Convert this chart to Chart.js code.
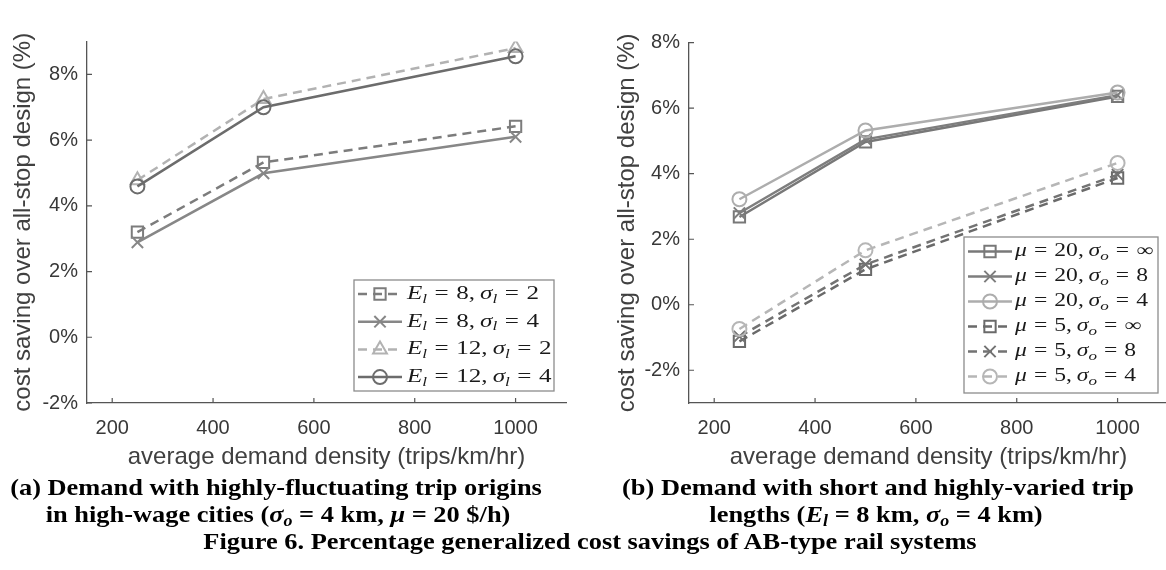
<!DOCTYPE html>
<html>
<head>
<meta charset="utf-8">
<script src="https://cdn.jsdelivr.net/npm/chart.js@4.4.1/dist/chart.umd.min.js"></script>
<style>
html,body{margin:0;padding:0;width:1166px;height:570px;overflow:hidden;background:#fff;}
#wrapA{position:absolute;left:0;top:0;width:583px;height:475px;}
#wrapB{position:absolute;left:583px;top:0;width:595px;height:475px;}
.cap{position:absolute;font-family:"Liberation Serif","Times New Roman",serif;font-weight:bold;font-size:24px;color:#000;white-space:nowrap;line-height:27px;transform:translate(-50%,-50%) scaleX(1.1);}
.cap i{font-style:italic;}
.cap .sb{font-size:0.68em;vertical-align:-0.28em;line-height:0;font-style:italic;}
</style>
</head>
<body>
<div id="wrapA"><canvas id="chartA" width="583" height="475" style="width:583px;height:475px"></canvas></div>
<div id="wrapB"><canvas id="chartB" width="595" height="475" style="width:595px;height:475px"></canvas></div>

<div class="cap" style="left:276px;top:487px">(a) Demand with highly-fluctuating trip origins</div>
<div class="cap" style="left:278px;top:514px">in high-wage cities (<i>σ</i><span class="sb">o</span> = 4 km, <i>μ</i> = 20 $/h)</div>
<div class="cap" style="left:878px;top:487px">(b) Demand with short and highly-varied trip</div>
<div class="cap" style="left:876px;top:514px">lengths (<i>E</i><span class="sb">l</span> = 8 km, <i>σ</i><span class="sb">o</span> = 4 km)</div>
<div class="cap" style="left:590px;top:541px">Figure 6. Percentage generalized cost savings of AB-type rail systems</div>

<script>
// ---------------- data ----------------
const densities = [250, 500, 1000];
const xTickValues = [200, 400, 600, 800, 1000];
const yTickValuesA = [-2, 0, 2, 4, 6, 8];
const yTickValuesB = [-2, 0, 2, 4, 6, 8];
const xTitle = 'average demand density (trips/km/hr)';
const yTitle = 'cost saving over all-stop design (%)';

// Panel (a)
const a_E8_s2  = [3.20, 5.32, 6.42];
const a_E8_s4  = [2.89, 4.99, 6.10];
const a_E12_s2 = [4.78, 7.25, 8.80];
const a_E12_s4 = [4.59, 7.00, 8.55];
const legendA = [
  ['E','l','8','σ','l','2'],
  ['E','l','8','σ','l','4'],
  ['E','l','12','σ','l','2'],
  ['E','l','12','σ','l','4']
];

// Panel (b)
const b_m20_inf = [2.68, 4.97, 6.36];
const b_m20_8   = [2.80, 5.05, 6.40];
const b_m20_4   = [3.22, 5.32, 6.48];
const b_m5_inf  = [-1.12, 1.08, 3.87];
const b_m5_8    = [-0.97, 1.23, 3.97];
const b_m5_4    = [-0.74, 1.66, 4.33];
const legendB = [
  ['μ','','20','σ','o','∞'],
  ['μ','','20','σ','o','8'],
  ['μ','','20','σ','o','4'],
  ['μ','','5','σ','o','∞'],
  ['μ','','5','σ','o','8'],
  ['μ','','5','σ','o','4']
];

// ---------------- helpers ----------------
const DASH = [9, 6];
function series(values, color, dashed, marker, order) {
  return {
    data: densities.map((x, i) => ({x: x, y: values[i]})),
    borderColor: color,
    borderWidth: 2.5,
    borderDash: dashed ? DASH : [],
    pointStyle: marker,
    pointRadius: marker === 'circle' ? 7 : 8,
    pointBorderWidth: 2,
    pointBorderColor: color,
    pointBackgroundColor: 'rgba(0,0,0,0)',
    fill: false,
    tension: 0,
    order: order
  };
}

function buildRuns(p) {
  const runs = [];
  runs.push([p[0], 'i']);
  if (p[1]) runs.push([p[1], 's']);
  runs.push([0.3, 'g']); runs.push(['=', 'r']); runs.push([0.3, 'g']);
  runs.push([p[2], 'r']); runs.push([',', 'r']); runs.push([0.2, 'g']);
  runs.push([p[3], 'i']);
  if (p[4]) runs.push([p[4], 's']);
  runs.push([0.3, 'g']); runs.push(['=', 'r']); runs.push([0.3, 'g']);
  runs.push([p[5], 'r']);
  return runs;
}
function setRunFont(ctx, kind, size) {
  const fam = '"Liberation Serif","Times New Roman",serif';
  if (kind === 'i') ctx.font = 'italic ' + size + 'px ' + fam;
  else if (kind === 's') ctx.font = 'italic ' + Math.round(size * 0.7) + 'px ' + fam;
  else ctx.font = size + 'px ' + fam;
}
function measureRuns(ctx, runs, size) {
  let w = 0;
  runs.forEach(r => {
    if (r[1] === 'g') { w += r[0] * size; return; }
    setRunFont(ctx, r[1], size);
    w += ctx.measureText(r[0]).width;
  });
  return w;
}
function drawRuns(ctx, runs, x, y, size, sx) {
  ctx.save();
  ctx.translate(x, y);
  ctx.scale(sx, 1);
  ctx.fillStyle = '#1a1a1a';
  ctx.textBaseline = 'middle';
  let cx = 0;
  runs.forEach(r => {
    if (r[1] === 'g') { cx += r[0] * size; return; }
    setRunFont(ctx, r[1], size);
    const dy = r[1] === 's' ? size * 0.28 : 0;
    ctx.fillText(r[0], cx, dy);
    cx += ctx.measureText(r[0]).width;
  });
  ctx.restore();
}
function drawMarker(ctx, ds, x, y) {
  const r = ds.pointRadius;
  ctx.save();
  ctx.setLineDash([]);
  ctx.strokeStyle = ds.pointBorderColor;
  ctx.lineWidth = ds.pointBorderWidth;
  ctx.beginPath();
  if (ds.pointStyle === 'circle') {
    ctx.arc(x, y, r, 0, Math.PI * 2);
  } else if (ds.pointStyle === 'rect') {
    const s = Math.SQRT1_2 * r;
    ctx.rect(x - s, y - s, 2 * s, 2 * s);
  } else if (ds.pointStyle === 'crossRot') {
    const o = Math.SQRT1_2 * r;
    ctx.moveTo(x - o, y - o); ctx.lineTo(x + o, y + o);
    ctx.moveTo(x - o, y + o); ctx.lineTo(x + o, y - o);
  } else if (ds.pointStyle === 'triangle') {
    let a = 0;
    ctx.moveTo(x + Math.sin(a) * r, y - Math.cos(a) * r);
    a += 2 * Math.PI / 3;
    ctx.lineTo(x + Math.sin(a) * r, y - Math.cos(a) * r);
    a += 2 * Math.PI / 3;
    ctx.lineTo(x + Math.sin(a) * r, y - Math.cos(a) * r);
    ctx.closePath();
  }
  ctx.stroke();
  ctx.restore();
}

const mathLegend = {
  id: 'mathLegend',
  afterDraw(chart, args, o) {
    if (!o || !o.box) return;
    const ctx = chart.ctx;
    const [x0, y0, x1, y1] = o.box;
    ctx.save();
    ctx.fillStyle = '#ffffff';
    ctx.fillRect(x0, y0, x1 - x0, y1 - y0);
    ctx.strokeStyle = '#8c8c8c';
    ctx.lineWidth = 1.3;
    ctx.strokeRect(x0, y0, x1 - x0, y1 - y0);
    const rows = o.labels.map(buildRuns);
    const sx = o.textWidth / measureRuns(ctx, rows[0], o.fontSize);
    chart.data.datasets.forEach((ds, i) => {
      const y = o.rowY0 + i * o.rowStep;
      ctx.save();
      ctx.strokeStyle = ds.borderColor;
      ctx.lineWidth = ds.borderWidth;
      ctx.setLineDash(ds.borderDash || []);
      ctx.beginPath();
      ctx.moveTo(o.lineX0, y);
      ctx.lineTo(o.lineX1, y);
      ctx.stroke();
      ctx.restore();
      drawMarker(ctx, ds, (o.lineX0 + o.lineX1) / 2, y);
      drawRuns(ctx, rows[i], o.textX, y, o.fontSize, sx);
    });
    ctx.restore();
  }
};

const inwardTicks = {
  id: 'inwardTicks',
  afterDatasetsDraw(chart) {
    const ctx = chart.ctx, ca = chart.chartArea;
    const xs = chart.scales.x, ys = chart.scales.y;
    ctx.save();
    ctx.strokeStyle = '#555';
    ctx.lineWidth = 1.2;
    ctx.beginPath();
    xs.ticks.forEach(t => {
      const px = xs.getPixelForValue(t.value);
      ctx.moveTo(px, ca.bottom); ctx.lineTo(px, ca.bottom - 5);
    });
    ys.ticks.forEach(t => {
      const py = ys.getPixelForValue(t.value);
      ctx.moveTo(ca.left, py); ctx.lineTo(ca.left + 5, py);
    });
    ctx.stroke();
    ctx.restore();
  }
};

function makeOptions(cfg) {
  const tickFont = {family: '"Liberation Sans", Arial, sans-serif', size: 20};
  const titleFont = {family: '"Liberation Sans", Arial, sans-serif', size: 24};
  return {
    responsive: false,
    animation: false,
    devicePixelRatio: 1,
    layout: {padding: {top: cfg.padTop, right: cfg.padRight, left: 0, bottom: 0}},
    plugins: {
      legend: {display: false},
      tooltip: {enabled: false},
      title: {display: false},
      mathLegend: cfg.legend
    },
    scales: {
      x: {
        type: 'linear',
        min: 150, max: 1100,
        afterBuildTicks: s => { s.ticks = xTickValues.map(v => ({value: v})); },
        afterFit: s => { s.height = cfg.xHeight; },
        grid: {display: false, drawTicks: false},
        border: {display: true, color: '#555', width: 1.3},
        ticks: {font: tickFont, color: '#383838', padding: 13, maxRotation: 0, autoSkip: false,
                callback: v => String(v)},
        title: {display: true, text: xTitle, font: titleFont, color: '#404040',
                padding: {top: 0, bottom: 3.6}}
      },
      y: {
        type: 'linear',
        min: cfg.yMin, max: cfg.yMax,
        afterBuildTicks: s => { s.ticks = cfg.yTicks.map(v => ({value: v})); },
        afterFit: s => { s.width = cfg.yWidth; },
        grid: {display: false, drawTicks: false},
        border: {display: true, color: '#555', width: 1.3},
        ticks: {font: tickFont, color: '#383838', padding: 9, autoSkip: false,
                callback: v => v + '%'},
        title: {display: true, text: yTitle, font: titleFont, color: '#404040',
                padding: {top: cfg.yTitlePad, bottom: 0}}
      }
    }
  };
}

// ---------------- chart (a) ----------------
new Chart(document.getElementById('chartA'), {
  type: 'line',
  data: {
    datasets: [
      series(a_E8_s2,  '#7c7c7c', true,  'rect',     3),
      series(a_E8_s4,  '#878787', false, 'crossRot', 2),
      series(a_E12_s2, '#b2b2b2', true,  'triangle', 1),
      series(a_E12_s4, '#6c6c6c', false, 'circle',   0)
    ]
  },
  options: makeOptions({
    padTop: 41.5, padRight: 17, xHeight: 72, yWidth: 87, yTitlePad: 8.6,
    yMin: -2, yMax: 9, yTicks: yTickValuesA,
    legend: {box: [354, 280, 554, 391], rowY0: 294, rowStep: 27.7,
             lineX0: 358, lineX1: 402, textX: 407, textWidth: 132, fontSize: 19, labels: legendA}
  }),
  plugins: [inwardTicks, mathLegend]
});

// ---------------- chart (b) ----------------
new Chart(document.getElementById('chartB'), {
  type: 'line',
  data: {
    datasets: [
      series(b_m20_inf, '#787878', false, 'rect',     5),
      series(b_m20_8,   '#7e7e7e', false, 'crossRot', 4),
      series(b_m20_4,   '#adadad', false, 'circle',   3),
      series(b_m5_inf,  '#6a6a6a', true,  'rect',     2),
      series(b_m5_8,    '#737373', true,  'crossRot', 1),
      series(b_m5_4,    '#b6b6b6', true,  'circle',   0)
    ]
  },
  options: makeOptions({
    padTop: 42.7, padRight: 8, xHeight: 72, yWidth: 106, yTitlePad: 29.6,
    yMin: -3, yMax: 8, yTicks: yTickValuesB,
    legend: {box: [381, 237, 575, 393], rowY0: 251.5, rowStep: 25,
             lineX0: 385, lineX1: 429, textX: 432, textWidth: 138, fontSize: 18, labels: legendB}
  }),
  plugins: [inwardTicks, mathLegend]
});
</script>
</body>
</html>
